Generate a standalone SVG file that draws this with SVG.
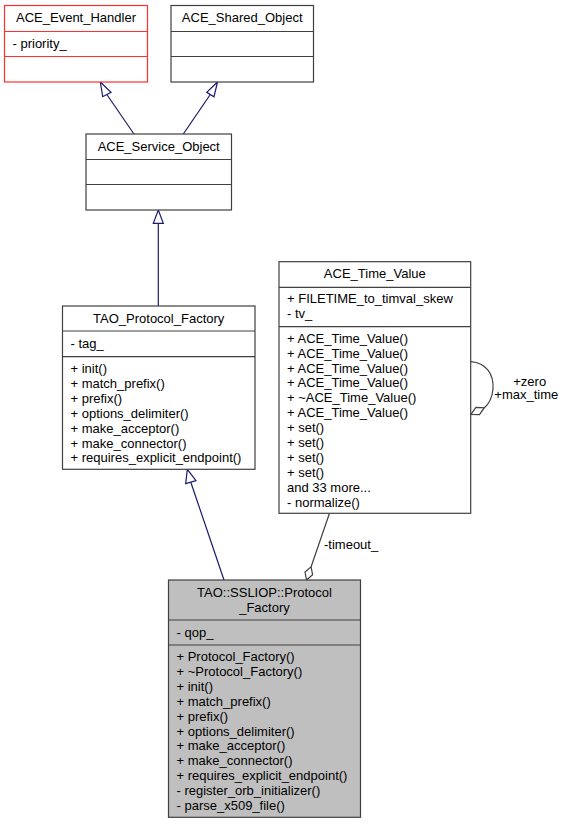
<svg xmlns="http://www.w3.org/2000/svg" width="565" height="824" viewBox="0 0 565 824">
<style>
  text { font-family: "Liberation Sans", Arial, sans-serif; font-size: 13px; fill: #000; }
  .c { text-anchor: middle; }
  .box { fill: #fff; stroke: #404040; stroke-width: 1.2; }
  .red { fill: #fff; stroke: #ff3030; stroke-width: 1.2; }
  .cur { fill: #bfbfbf; stroke: #404040; stroke-width: 1.2; }
  .div { stroke: #404040; stroke-width: 1.2; }
  .divr { stroke: #ff3030; stroke-width: 1.2; }
  .inh { stroke: #191970; stroke-width: 1.2; fill: none; }
  .inhh { stroke: #191970; stroke-width: 1.2; fill: #fff; }
  .use { stroke: #404040; stroke-width: 1.2; fill: none; }
  .useh { stroke: #404040; stroke-width: 1.2; fill: #fff; }
</style>
<rect width="565" height="824" fill="#fff"/>
<g id="edges">
  <line class="inh" x1="134" y1="134" x2="106.8" y2="94.5"/>
  <polygon class="inhh" points="100.3,82 102.7,96.7 111,92.3"/>
  <line class="inh" x1="183.3" y1="134" x2="210.3" y2="94.5"/>
  <polygon class="inhh" points="217.5,82 206.7,92.3 214,96.7"/>
  <line class="inh" x1="158.3" y1="306" x2="158.3" y2="223.3"/>
  <polygon class="inhh" points="158.3,210 153.3,223.3 163.3,223.3"/>
  <line class="inh" x1="224" y1="580" x2="190.8" y2="482.2"/>
  <polygon class="inhh" points="187.3,469.3 185.7,483.7 196,480.7"/>
  <line class="use" x1="329.5" y1="513.3" x2="311.1" y2="566.8"/>
  <polygon class="useh" points="306.5,580 305,572.1 311.1,566.8 312.6,574.7"/>
  <text x="324" y="549">-timeout_</text>
  <path class="use" d="M471,361.7 C486,363 494,374 493,389 C492,399 489,404 484.3,407.7"/>
  <polygon class="useh" points="471,414.3 479.5,414.6 484.3,407.7 475.9,407.4"/>
  <text class="c" x="529.7" y="385.5">+zero</text>
  <text class="c" x="526.3" y="399">+max_time</text>
</g>
<g id="ACE_Event_Handler">
  <rect class="red" x="4.5" y="5.5" width="143" height="76.5"/>
  <line class="divr" x1="4.5" y1="31.5" x2="147.5" y2="31.5"/>
  <line class="divr" x1="4.5" y1="56.5" x2="147.5" y2="56.5"/>
  <text class="c" x="76" y="22">ACE_Event_Handler</text>
  <text x="12.5" y="47.5">- priority_</text>
</g>
<g id="ACE_Shared_Object">
  <rect class="box" x="171" y="5.5" width="142.5" height="76.5"/>
  <line class="div" x1="171" y1="31.5" x2="313.5" y2="31.5"/>
  <line class="div" x1="171" y1="56.5" x2="313.5" y2="56.5"/>
  <text class="c" x="242.2" y="22">ACE_Shared_Object</text>
</g>
<g id="ACE_Service_Object">
  <rect class="box" x="86" y="134" width="145.5" height="76"/>
  <line class="div" x1="86" y1="159.5" x2="231.5" y2="159.5"/>
  <line class="div" x1="86" y1="184.5" x2="231.5" y2="184.5"/>
  <text class="c" x="158.7" y="150.5">ACE_Service_Object</text>
</g>
<g id="TAO_Protocol_Factory">
  <rect class="box" x="62.5" y="306" width="192.5" height="163.3"/>
  <line class="div" x1="62.5" y1="331" x2="255" y2="331"/>
  <line class="div" x1="62.5" y1="356.7" x2="255" y2="356.7"/>
  <text class="c" x="158.7" y="322.5">TAO_Protocol_Factory</text>
  <text x="70.5" y="348">- tag_</text>
  <text x="70.5" y="373">+ init()</text>
  <text x="70.5" y="387.9">+ match_prefix()</text>
  <text x="70.5" y="402.8">+ prefix()</text>
  <text x="70.5" y="417.7">+ options_delimiter()</text>
  <text x="70.5" y="432.6">+ make_acceptor()</text>
  <text x="70.5" y="447.5">+ make_connector()</text>
  <text x="70.5" y="462.4">+ requires_explicit_endpoint()</text>
</g>
<g id="ACE_Time_Value">
  <rect class="box" x="279" y="261.7" width="191.7" height="251.6"/>
  <line class="div" x1="279" y1="287.3" x2="470.7" y2="287.3"/>
  <line class="div" x1="279" y1="326.7" x2="470.7" y2="326.7"/>
  <text class="c" x="374.8" y="278">ACE_Time_Value</text>
  <text x="287" y="303.3">+ FILETIME_to_timval_skew</text>
  <text x="287" y="318.2">- tv_</text>
  <text x="287" y="342.7">+ ACE_Time_Value()</text>
  <text x="287" y="357.6">+ ACE_Time_Value()</text>
  <text x="287" y="372.5">+ ACE_Time_Value()</text>
  <text x="287" y="387.4">+ ACE_Time_Value()</text>
  <text x="287" y="402.3">+ ~ACE_Time_Value()</text>
  <text x="287" y="417.2">+ ACE_Time_Value()</text>
  <text x="287" y="432.1">+ set()</text>
  <text x="287" y="447">+ set()</text>
  <text x="287" y="461.9">+ set()</text>
  <text x="287" y="476.8">+ set()</text>
  <text x="287" y="491.7">and 33 more...</text>
  <text x="287" y="506.6">- normalize()</text>
</g>
<g id="TAO_SSLIOP_Protocol_Factory">
  <rect class="cur" x="168.5" y="580" width="192" height="237.3"/>
  <line class="div" x1="168.5" y1="620" x2="360.5" y2="620"/>
  <line class="div" x1="168.5" y1="645" x2="360.5" y2="645"/>
  <text class="c" x="264.5" y="596.5">TAO::SSLIOP::Protocol</text>
  <text class="c" x="264.5" y="611.5">_Factory</text>
  <text x="176.5" y="637">- qop_</text>
  <text x="176.5" y="661">+ Protocol_Factory()</text>
  <text x="176.5" y="675.9">+ ~Protocol_Factory()</text>
  <text x="176.5" y="690.8">+ init()</text>
  <text x="176.5" y="705.7">+ match_prefix()</text>
  <text x="176.5" y="720.6">+ prefix()</text>
  <text x="176.5" y="735.5">+ options_delimiter()</text>
  <text x="176.5" y="750.4">+ make_acceptor()</text>
  <text x="176.5" y="765.3">+ make_connector()</text>
  <text x="176.5" y="780.2">+ requires_explicit_endpoint()</text>
  <text x="176.5" y="795.1">- register_orb_initializer()</text>
  <text x="176.5" y="810">- parse_x509_file()</text>
</g>
</svg>
